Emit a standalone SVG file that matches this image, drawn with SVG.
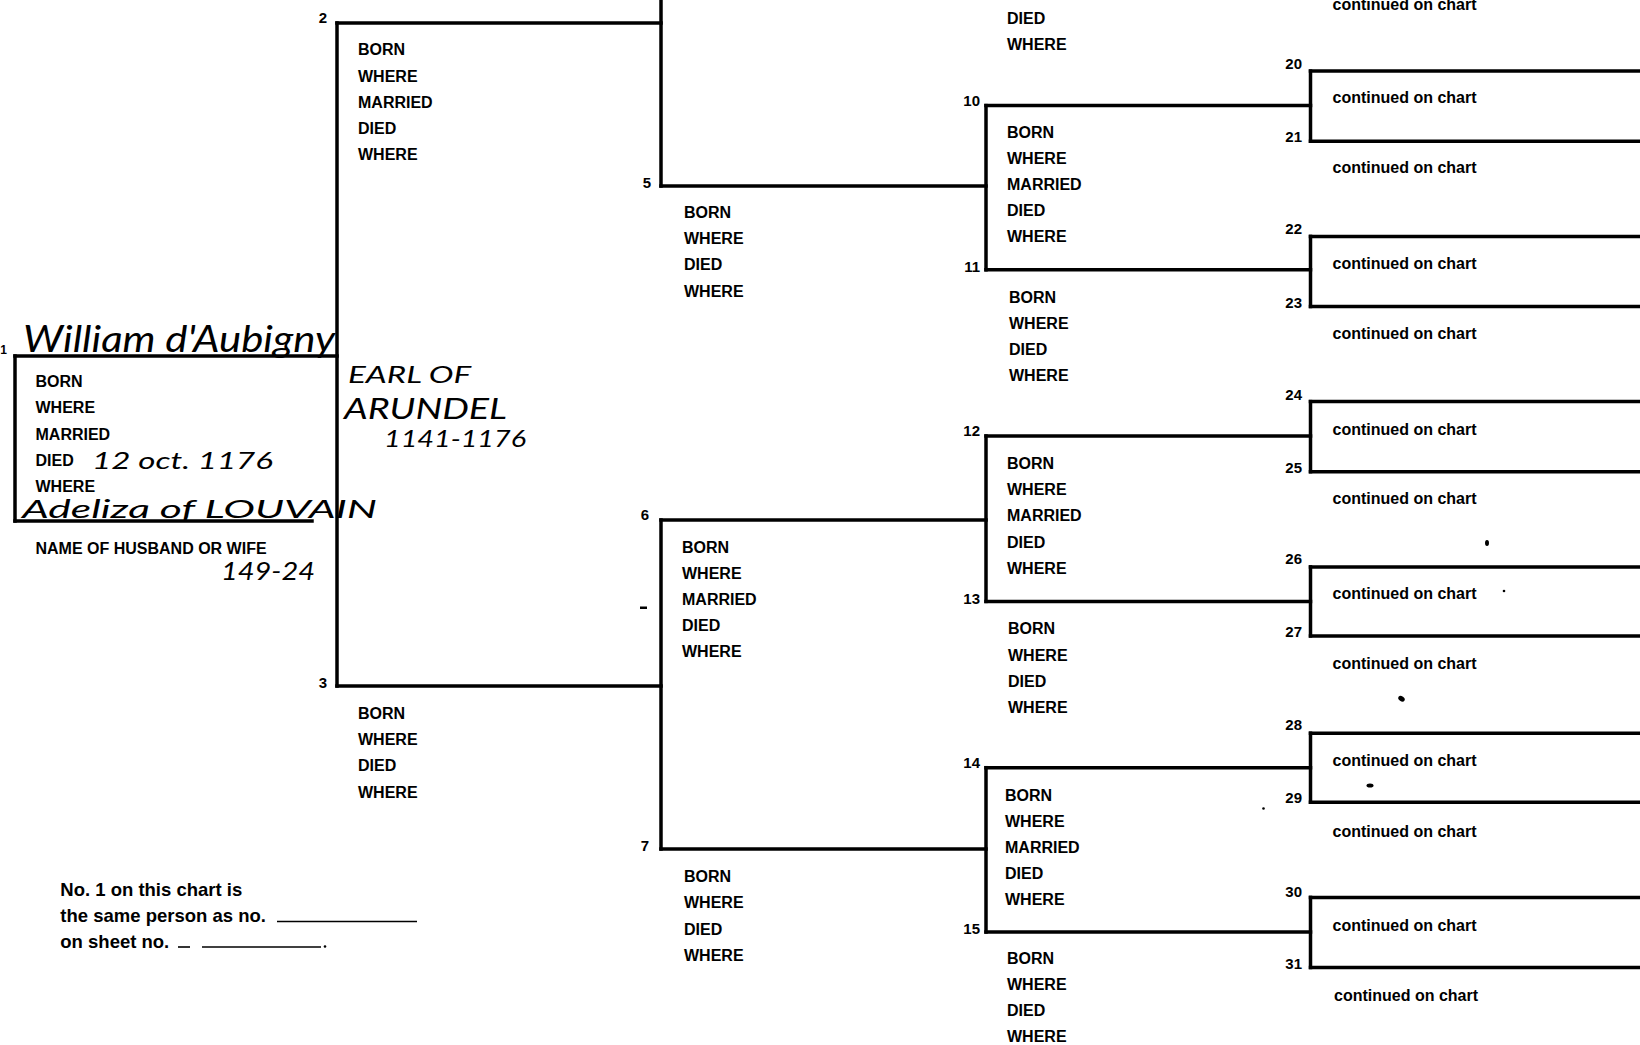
<svg xmlns="http://www.w3.org/2000/svg" width="1640" height="1045" viewBox="0 0 1640 1045">
<style>
.bg{fill:#ffffff}
.ln{stroke:#000;stroke-width:3.5;fill:none;stroke-linecap:square}
.lb{font-family:"Liberation Sans",Arial,sans-serif;font-weight:bold;font-size:16px;fill:#000}
.num{font-family:"Liberation Sans",Arial,sans-serif;font-weight:bold;font-size:15px;fill:#000;text-anchor:end}
.ft{font-family:"Liberation Sans",Arial,sans-serif;font-weight:bold;font-size:18.5px;fill:#000}
.hw{font-family:Lato,"DejaVu Sans",sans-serif;font-style:italic;font-weight:400;fill:#000}
.ul{stroke:#000;stroke-width:1.6}
.sp{fill:#000}
</style>
<rect class="bg" x="0" y="0" width="1640" height="1045"/>

<g id="connectors">
  <line class="ln" x1="337" y1="23" x2="337" y2="686"/>
  <line class="ln" x1="661" y1="-5" x2="661" y2="186"/>
  <line class="ln" x1="661" y1="520" x2="661" y2="849"/>
  <line class="ln" x1="986" y1="105.6" x2="986" y2="269.8"/>
  <line class="ln" x1="986" y1="436" x2="986" y2="601.4"/>
  <line class="ln" x1="986" y1="767.7" x2="986" y2="932"/>
  <line class="ln" x1="1310.5" y1="71.1" x2="1310.5" y2="141.2"/>
  <line class="ln" x1="1310.5" y1="236.4" x2="1310.5" y2="306.5"/>
  <line class="ln" x1="1310.5" y1="401.6" x2="1310.5" y2="471.7"/>
  <line class="ln" x1="1310.5" y1="566.9" x2="1310.5" y2="635.9"/>
  <line class="ln" x1="1310.5" y1="733.2" x2="1310.5" y2="802.2"/>
  <line class="ln" x1="1310.5" y1="897.4" x2="1310.5" y2="967.5"/>
</g>

<g id="node1">
  <line class="ln" x1="15" y1="356" x2="337" y2="356"/>
  <line class="ln" x1="15" y1="356" x2="15" y2="521"/>
  <line class="ln" x1="15" y1="521" x2="312" y2="521"/>
  <text class="num" x="7" y="353.5" style="font-size:12px">1</text>
  <text class="hw" x="23" y="352" font-size="36" textLength="312" lengthAdjust="spacingAndGlyphs">William d'Aubigny</text>
  <text class="lb" x="35.5" y="387">BORN</text>
  <text class="lb" x="35.5" y="413.3">WHERE</text>
  <text class="lb" x="35.5" y="439.6">MARRIED</text>
  <text class="lb" x="35.5" y="465.9">DIED</text>
  <text class="hw" x="92" y="469" font-size="24" textLength="181" lengthAdjust="spacingAndGlyphs">12 oct. 1176</text>
  <text class="lb" x="35.5" y="492.2">WHERE</text>
  <text class="hw" x="22" y="518" font-size="26" textLength="355" lengthAdjust="spacingAndGlyphs">Adeliza of LOUVAIN</text>
  <text class="lb" x="35.5" y="554">NAME OF HUSBAND OR WIFE</text>
  <text class="hw" x="221" y="580" font-size="25" textLength="94" lengthAdjust="spacingAndGlyphs">149-24</text>
  <text class="hw" x="348" y="383" font-size="23" textLength="123" lengthAdjust="spacingAndGlyphs">EARL OF</text>
  <text class="hw" x="344" y="419" font-size="28" textLength="163" lengthAdjust="spacingAndGlyphs">ARUNDEL</text>
  <text class="hw" x="384" y="447" font-size="24" textLength="142" lengthAdjust="spacingAndGlyphs">1141-1176</text>
</g>

<g id="node2">
  <line class="ln" x1="337" y1="23" x2="661" y2="23"/>
  <text class="num" x="327" y="23">2</text>
  <text class="lb" x="358" y="55.3">BORN</text>
  <text class="lb" x="358" y="81.5">WHERE</text>
  <text class="lb" x="358" y="107.7">MARRIED</text>
  <text class="lb" x="358" y="133.9">DIED</text>
  <text class="lb" x="358" y="160.1">WHERE</text>
</g>

<g id="node3">
  <line class="ln" x1="337" y1="686" x2="661" y2="686"/>
  <text class="num" x="327" y="687.5">3</text>
  <text class="lb" x="358" y="719.1">BORN</text>
  <text class="lb" x="358" y="745.3">WHERE</text>
  <text class="lb" x="358" y="771.4">DIED</text>
  <text class="lb" x="358" y="797.6">WHERE</text>
</g>

<g id="node5">
  <line class="ln" x1="661" y1="186" x2="986" y2="186"/>
  <text class="num" x="651" y="187.5">5</text>
  <text class="lb" x="684" y="218.1">BORN</text>
  <text class="lb" x="684" y="244.3">WHERE</text>
  <text class="lb" x="684" y="270.4">DIED</text>
  <text class="lb" x="684" y="296.6">WHERE</text>
</g>

<g id="node6">
  <line class="ln" x1="661" y1="520" x2="986" y2="520"/>
  <text class="num" x="649" y="520">6</text>
  <text class="lb" x="682" y="552.8">BORN</text>
  <text class="lb" x="682" y="579">WHERE</text>
  <text class="lb" x="682" y="605.1">MARRIED</text>
  <text class="lb" x="682" y="631.3">DIED</text>
  <text class="lb" x="682" y="657.4">WHERE</text>
</g>

<g id="node7">
  <line class="ln" x1="661" y1="849" x2="986" y2="849"/>
  <text class="num" x="649" y="850.5">7</text>
  <text class="lb" x="684" y="882.3">BORN</text>
  <text class="lb" x="684" y="908.4">WHERE</text>
  <text class="lb" x="684" y="934.6">DIED</text>
  <text class="lb" x="684" y="960.7">WHERE</text>
</g>

<g id="node9">
  <text class="lb" x="1007" y="23.6">DIED</text>
  <text class="lb" x="1007" y="49.7">WHERE</text>
</g>

<g id="node10">
  <line class="ln" x1="986" y1="105.6" x2="1310.5" y2="105.6"/>
  <text class="num" x="980" y="105.8">10</text>
  <text class="lb" x="1007" y="137.6">BORN</text>
  <text class="lb" x="1007" y="163.7">WHERE</text>
  <text class="lb" x="1007" y="189.8">MARRIED</text>
  <text class="lb" x="1007" y="216">DIED</text>
  <text class="lb" x="1007" y="242.2">WHERE</text>
</g>

<g id="node11">
  <line class="ln" x1="986" y1="269.8" x2="1310.5" y2="269.8"/>
  <text class="num" x="980" y="272.1">11</text>
  <text class="lb" x="1009" y="302.8">BORN</text>
  <text class="lb" x="1009" y="329">WHERE</text>
  <text class="lb" x="1009" y="355.1">DIED</text>
  <text class="lb" x="1009" y="381.3">WHERE</text>
</g>

<g id="node12">
  <line class="ln" x1="986" y1="436" x2="1310.5" y2="436"/>
  <text class="num" x="980" y="436.3">12</text>
  <text class="lb" x="1007" y="469.1">BORN</text>
  <text class="lb" x="1007" y="495.3">WHERE</text>
  <text class="lb" x="1007" y="521.4">MARRIED</text>
  <text class="lb" x="1007" y="547.6">DIED</text>
  <text class="lb" x="1007" y="573.8">WHERE</text>
</g>

<g id="node13">
  <line class="ln" x1="986" y1="601.4" x2="1310.5" y2="601.4"/>
  <text class="num" x="980" y="603.7">13</text>
  <text class="lb" x="1008" y="634.4">BORN</text>
  <text class="lb" x="1008" y="660.5">WHERE</text>
  <text class="lb" x="1008" y="686.7">DIED</text>
  <text class="lb" x="1008" y="712.8">WHERE</text>
</g>

<g id="node14">
  <line class="ln" x1="986" y1="767.7" x2="1310.5" y2="767.7"/>
  <text class="num" x="980" y="767.9">14</text>
  <text class="lb" x="1005" y="800.8">BORN</text>
  <text class="lb" x="1005" y="827">WHERE</text>
  <text class="lb" x="1005" y="853.1">MARRIED</text>
  <text class="lb" x="1005" y="879.3">DIED</text>
  <text class="lb" x="1005" y="905.4">WHERE</text>
</g>

<g id="node15">
  <line class="ln" x1="986" y1="932" x2="1310.5" y2="932"/>
  <text class="num" x="980" y="934.2">15</text>
  <text class="lb" x="1007" y="963.8">BORN</text>
  <text class="lb" x="1007" y="990">WHERE</text>
  <text class="lb" x="1007" y="1016.2">DIED</text>
  <text class="lb" x="1007" y="1042.3">WHERE</text>
</g>

<g id="node19"><text class="lb" x="1332.5" y="10.2">continued on chart</text></g>
<g id="node20"><line class="ln" x1="1310.5" y1="71.1" x2="1645" y2="71.1"/><text class="num" x="1302" y="69.2">20</text><text class="lb" x="1332.5" y="103.3">continued on chart</text></g>
<g id="node21"><line class="ln" x1="1310.5" y1="141.2" x2="1645" y2="141.2"/><text class="num" x="1302" y="142.4">21</text><text class="lb" x="1332.5" y="173.3">continued on chart</text></g>
<g id="node22"><line class="ln" x1="1310.5" y1="236.4" x2="1645" y2="236.4"/><text class="num" x="1302" y="234.4">22</text><text class="lb" x="1332.5" y="268.5">continued on chart</text></g>
<g id="node23"><line class="ln" x1="1310.5" y1="306.5" x2="1645" y2="306.5"/><text class="num" x="1302" y="307.7">23</text><text class="lb" x="1332.5" y="338.6">continued on chart</text></g>
<g id="node24"><line class="ln" x1="1310.5" y1="401.6" x2="1645" y2="401.6"/><text class="num" x="1302" y="399.7">24</text><text class="lb" x="1332.5" y="434.8">continued on chart</text></g>
<g id="node25"><line class="ln" x1="1310.5" y1="471.7" x2="1645" y2="471.7"/><text class="num" x="1302" y="472.9">25</text><text class="lb" x="1332.5" y="503.9">continued on chart</text></g>
<g id="node26"><line class="ln" x1="1310.5" y1="566.9" x2="1645" y2="566.9"/><text class="num" x="1302" y="563.9">26</text><text class="lb" x="1332.5" y="599">continued on chart</text></g>
<g id="node27"><line class="ln" x1="1310.5" y1="635.9" x2="1645" y2="635.9"/><text class="num" x="1302" y="637.1">27</text><text class="lb" x="1332.5" y="669.1">continued on chart</text></g>
<g id="node28"><line class="ln" x1="1310.5" y1="733.2" x2="1645" y2="733.2"/><text class="num" x="1302" y="730.2">28</text><text class="lb" x="1332.5" y="766.4">continued on chart</text></g>
<g id="node29"><line class="ln" x1="1310.5" y1="802.2" x2="1645" y2="802.2"/><text class="num" x="1302" y="803.4">29</text><text class="lb" x="1332.5" y="836.5">continued on chart</text></g>
<g id="node30"><line class="ln" x1="1310.5" y1="897.4" x2="1645" y2="897.4"/><text class="num" x="1302" y="896.5">30</text><text class="lb" x="1332.5" y="930.6">continued on chart</text></g>
<g id="node31"><line class="ln" x1="1310.5" y1="967.5" x2="1645" y2="967.5"/><text class="num" x="1302" y="968.7">31</text><text class="lb" x="1334" y="1000.7">continued on chart</text></g>

<g id="note">
  <text class="ft" x="60.3" y="896">No. 1 on this chart is</text>
  <text class="ft" x="60.3" y="922">the same person as no.</text>
  <line class="ul" x1="277" y1="921.5" x2="417" y2="921.5"/>
  <text class="ft" x="60.3" y="948.3">on sheet no.</text>
  <line class="ul" x1="178" y1="947" x2="190" y2="947"/>
  <line class="ul" x1="202" y1="947" x2="321" y2="947"/>
  <circle class="sp" cx="325" cy="946.5" r="1.3"/>
</g>

<g id="specks">
  <rect class="sp" x="640" y="606.5" width="7" height="2.5"/>
  <ellipse class="sp" cx="1487" cy="543" rx="2" ry="3"/>
  <circle class="sp" cx="1504" cy="591" r="1.3"/>
  <ellipse class="sp" cx="1401.5" cy="698.7" rx="3.5" ry="2.5" transform="rotate(35 1401.5 698.7)"/>
  <ellipse class="sp" cx="1370" cy="785.5" rx="3.5" ry="2"/>
  <circle class="sp" cx="1263.5" cy="808.5" r="1.3"/>
</g>
</svg>
